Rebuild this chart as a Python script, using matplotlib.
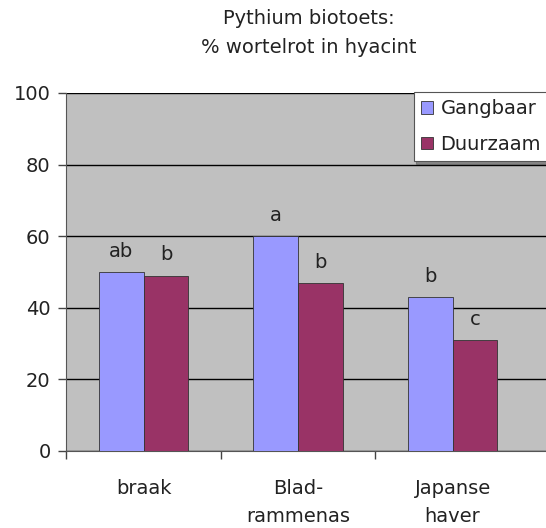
import matplotlib.pyplot as plt
import numpy as np

plt.rcParams["font.family"] = ["DejaVu Sans"]

categories = ["braak", "Blad-\nrammenas", "Japanse\nhaver"]
gangbaar = [50, 60, 43]
duurzaam = [49, 47, 31]
letters_gangbaar = ["ab", "a", "b"]
letters_duurzaam = ["b", "b", "c"]
y_ticks = [0, 20, 40, 60, 80, 100]

fs = 14
fig = plt.figure(figsize=(5.46, 5.28), dpi=100)
ax = fig.add_axes([66 / 546, 1 - 451 / 528, 1 - 66 / 546 + 0.01, (451 - 93) / 528])
ax.set_facecolor("#C0C0C0")

x = np.arange(len(categories))
w = 0.29
b1 = ax.bar(x - w / 2, gangbaar, w, color="#9999FF", edgecolor="#333333",
            linewidth=0.6, label="Gangbaar", zorder=3)
b2 = ax.bar(x + w / 2, duurzaam, w, color="#993366", edgecolor="#333333",
            linewidth=0.6, label="Duurzaam", zorder=3)

for bars, letters in ((b1, letters_gangbaar), (b2, letters_duurzaam)):
    for bar, txt in zip(bars, letters):
        ax.annotate(txt, (bar.get_x() + bar.get_width() / 2, bar.get_height()),
                    xytext=(0, 8), textcoords="offset points", ha="center",
                    va="bottom", fontsize=fs, color="#222222")

ax.set_xlim(-0.503, 2.64)
ax.set_ylim(0, 100)
ax.set_yticks(y_ticks)
ax.yaxis.grid(True, color="black", linewidth=1.0, zorder=1)
ax.set_axisbelow(True)
ax.tick_params(axis="y", length=6, width=1, color="#444444", pad=5,
               labelsize=fs, labelcolor="#222222")

ax.set_xticks(x)
ax.set_xticklabels(categories, fontsize=fs, color="#222222", linespacing=1.63)
ax.tick_params(axis="x", length=0, pad=20)
ax.set_xticks([-0.5, 0.5, 1.5], minor=True)
ax.tick_params(axis="x", which="minor", length=6, width=1, color="#444444")

for s in ("top", "right"):
    ax.spines[s].set_visible(False)
ax.spines["left"].set_color("#555555")
ax.spines["bottom"].set_color("#555555")

leg = ax.legend(loc="upper left", bbox_to_anchor=(0.716, 1.003), fontsize=fs,
                frameon=True, fancybox=False, shadow=True, borderaxespad=0,
                handlelength=0.6, handleheight=0.6, handletextpad=0.4,
                borderpad=0.38, labelspacing=0.85, labelcolor="#222222")
leg.get_frame().set_edgecolor("#555555")
leg.get_frame().set_linewidth(0.8)

fig.text(0.566, 1 - 33 / 528, "Pythium biotoets:\n% wortelrot in hyacint",
         ha="center", va="center", fontsize=fs, color="#222222", linespacing=1.7)

plt.savefig("out.png", dpi=100)
plt.close()
